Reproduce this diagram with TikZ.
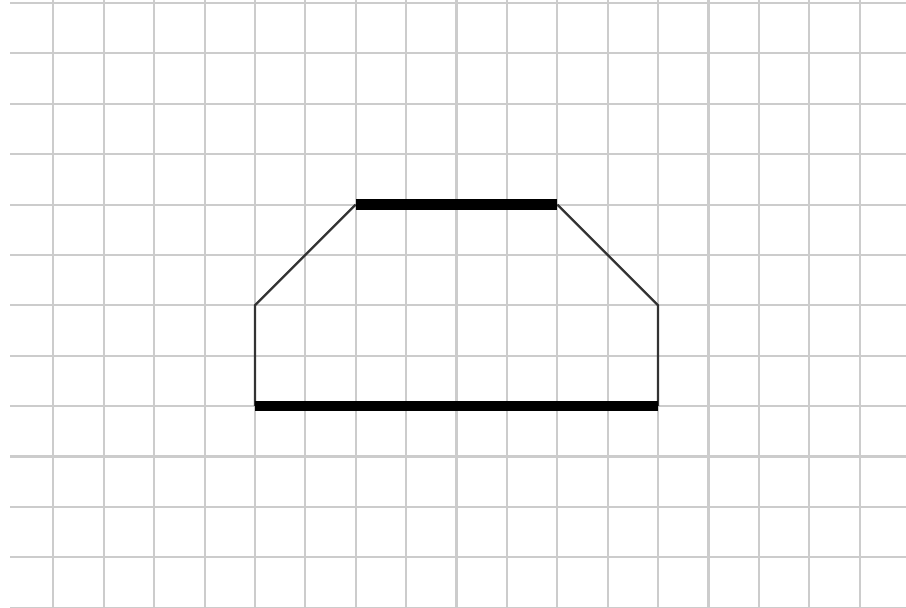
\documentclass[tikz,border=0pt]{standalone}
\begin{document}
\begin{tikzpicture}
          \useasboundingbox (-1.06,0.06) rectangle (16.92,-11.99);
          \foreach \x in {0,...,16}
          \draw [gray!40,line width=1.2pt] (\x,0.06) -- (\x,-11.99);
          \foreach \y in {0,...,12}
          \draw [gray!40,line width=1.2pt] (-0.86,-\y) -- (16.92,-\y);
          \coordinate (bl) at (4,-8);
          \coordinate (ml) at (4,-6);
          \coordinate (tl) at (6,-4);
          \coordinate (tr) at (10,-4);
          \coordinate (mr) at (12,-6);
          \coordinate (br) at (12,-8);
          \draw [black!80,line width=1.3pt,line join=round] (bl) -- (ml) -- (tl);
          \draw [black!80,line width=1.3pt,line join=round] (tr) -- (mr) -- (br);
          \draw [line width=6pt] (tl) -- (tr);
          \draw [line width=6pt] (bl) -- (br);
\end{tikzpicture}
\end{document}
